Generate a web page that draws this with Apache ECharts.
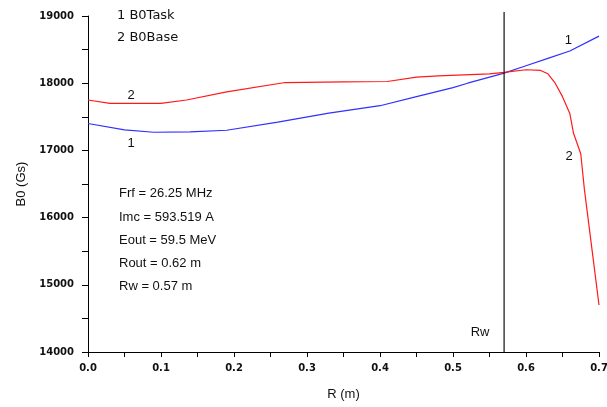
<!doctype html>
<html>
<head>
<meta charset="UTF-8">
<title>B0</title>
<script src="https://cdn.jsdelivr.net/npm/echarts@6/dist/echarts.min.js"></script>
<style>
	html, body { margin: 0; padding: 0; background: #fff; }
	#chart { width: 607px; height: 407px; }
</style>
</head>
<body>
<div id="chart"></div>
<script type="text/javascript">
// B0Task (curve 1)
var taskR = [0, 0.05, 0.09, 0.14, 0.19, 0.26, 0.33, 0.40, 0.45, 0.50, 0.52, 0.57, 0.60, 0.63, 0.66, 0.70];
var taskB = [17400, 17305, 17270, 17275, 17300, 17420, 17555, 17665, 17800, 17935, 18000, 18150, 18260, 18370, 18480, 18700];
// B0Base (curve 2)
var baseR = [0, 0.03, 0.10, 0.135, 0.19, 0.27, 0.35, 0.41, 0.45, 0.48, 0.55, 0.57, 0.60, 0.62, 0.63, 0.64, 0.65, 0.66, 0.665, 0.675, 0.68, 0.69, 0.70];
var baseB = [17750, 17700, 17700, 17750, 17870, 18010, 18020, 18025, 18090, 18110, 18140, 18160, 18200, 18190, 18140, 18000, 17800, 17550, 17260, 16950, 16420, 15560, 14700];
// Rw marker line
var rw = 0.57;
var rwSpan = [14000, 19060];
// curve number labels [r, B0]
var taskLabels = [[0.059, 17110], [0.658, 18643]];
var baseLabels = [[0.059, 17825], [0.659, 16917]];
var params = ['Frf = 26.25 MHz', 'Imc = 593.519 A', 'Eout = 59.5 MeV', 'Rout = 0.62 m', 'Rw = 0.57 m'];
var names = ['B0Task', 'B0Base'];

function pairs(xs, ys) {
	var out = [];
	for (var i = 0; i < xs.length; i++) out.push([xs[i], ys[i]]);
	return out;
}
function numMarks(list, txt) {
	return {
		symbol: 'circle',
		symbolSize: 0,
		silent: true,
		label: { show: true, position: 'inside', formatter: txt, color: '#111', fontSize: 13, fontFamily: 'Liberation Sans' },
		data: list.map(function (p) { return { coord: p }; })
	};
}

var tickFont = { color: '#111', fontSize: 10, fontWeight: 'bold', fontFamily: 'DejaVu Sans' };
var chart = echarts.init(document.getElementById('chart'));
chart.setOption({
	animation: false,
	backgroundColor: '#fff',
	grid: { left: 88, right: 8, top: 16, bottom: 55, outerBoundsMode: 'none' },
	legend: {
		data: names,
		orient: 'vertical',
		left: 112,
		top: 9,
		padding: 0,
		icon: 'none',
		itemWidth: 0,
		itemHeight: 14,
		itemGap: 8,
		selectedMode: false,
		formatter: function (n) { return (names.indexOf(n) + 1) + ' ' + n; },
		textStyle: { color: '#111', fontSize: 13, fontFamily: 'DejaVu Sans' }
	},
	xAxis: {
		type: 'value',
		min: 0, max: 0.7, interval: 0.1,
		name: 'R (m)',
		nameLocation: 'middle',
		nameGap: 36,
		nameMoveOverlap: false,
		nameTextStyle: { color: '#111', fontSize: 13, fontFamily: 'Liberation Sans' },
		axisLine: { lineStyle: { color: '#000', width: 1 } },
		axisTick: { inside: false, length: 5, lineStyle: { color: '#000' } },
		minorTick: { show: true, splitNumber: 2, length: 5, lineStyle: { color: '#000' } },
		splitLine: { show: false },
		axisLabel: Object.assign({ margin: 11, formatter: function (v) { return v.toFixed(1); } }, tickFont)
	},
	yAxis: {
		type: 'value',
		min: 14000, max: 19000, interval: 1000,
		name: 'B0 (Gs)',
		nameLocation: 'middle',
		nameGap: 60,
		nameMoveOverlap: false,
		nameTextStyle: { color: '#111', fontSize: 13, fontFamily: 'Liberation Sans' },
		axisLine: { show: true, lineStyle: { color: '#000', width: 1 } },
		axisTick: { show: true, inside: false, length: 6, lineStyle: { color: '#000' } },
		minorTick: { show: true, splitNumber: 2, length: 6, lineStyle: { color: '#000' } },
		splitLine: { show: false },
		axisLabel: Object.assign({ margin: 14, formatter: function (v) { return String(v); } }, tickFont)
	},
	series: [{
		name: names[0],
		type: 'line',
		data: pairs(taskR, taskB),
		showSymbol: false,
		lineStyle: { color: '#3030ff', width: 1.2 },
		itemStyle: { color: '#3030ff' },
		markPoint: numMarks(taskLabels, '1')
	}, {
		name: names[1],
		type: 'line',
		data: pairs(baseR, baseB),
		showSymbol: false,
		lineStyle: { color: '#ff1a1a', width: 1.2 },
		itemStyle: { color: '#ff1a1a' },
		markPoint: numMarks(baseLabels, '2')
	}, {
		name: 'Rw',
		type: 'line',
		data: [[rw, rwSpan[0]], [rw, rwSpan[1]]],
		clip: false,
		showSymbol: false,
		silent: true,
		lineStyle: { color: '#111', width: 1.2 },
		markPoint: {
			symbol: 'circle',
			symbolSize: 0,
			silent: true,
			label: { show: true, position: 'inside', offset: [-24, -20], formatter: 'Rw', color: '#111', fontSize: 13, fontFamily: 'Liberation Sans' },
			data: [{ coord: [rw, rwSpan[0]] }]
		}
	}],
	graphic: [{
		type: 'text',
		left: 119,
		top: 182,
		silent: true,
		style: {
			text: params.join('\n'),
			fill: '#111',
			font: '13px "Liberation Sans"',
			lineHeight: 23.3
		}
	}]
});
</script>
</body>
</html>
